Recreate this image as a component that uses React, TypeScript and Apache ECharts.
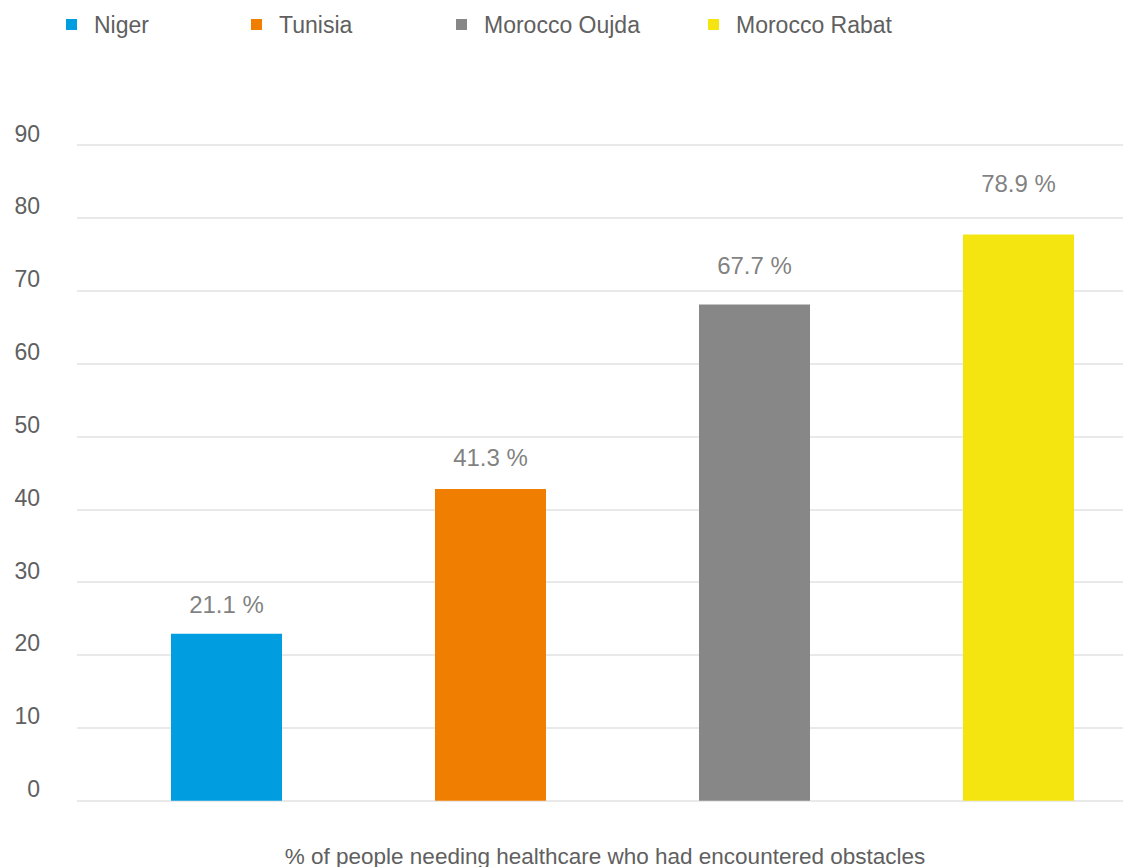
import React, { useEffect, useRef } from "react";
import * as echarts from "echarts";

const categories = ["Niger", "Tunisia", "Morocco Oujda", "Morocco Rabat"];
const barHeights = [22.9, 42.8, 68.1, 77.7];
const labelValues = [21.1, 41.3, 67.7, 78.9];
const colors = ["#009EE0", "#F07E00", "#878787", "#F4E511"];
const yTicks = { min: 0, max: 90, interval: 10 };
const footnote = "% of people needing healthcare who had encountered obstacles";
const legendLefts = [66, 251, 456, 708];

const FONT = "'Liberation Sans', Arial, sans-serif";
const TEXT = "#606060";

export default function App() {
  const ref = useRef<HTMLDivElement>(null);
  useEffect(() => {
    if (!ref.current) return;
    const chart = echarts.init(ref.current, null, { renderer: "svg" });
    const gridTop = 145;
    const gridBottom = 66.3;
    // horizontal layout: category slots 264px wide, first slot centred at x=226.5
    const plotLeft = 77;
    const plotWidth = 1123 - plotLeft;
    const slot = 264;
    const firstCenter = 226.5;
    const xMin = -(firstCenter - plotLeft) / slot;
    const xMax = xMin + plotWidth / slot;

    const barSeries = categories.map((name, i) => ({
      name,
      type: "bar",
      xAxisIndex: 1,
      yAxisIndex: 1,
      barWidth: 111,
      barGap: "-100%",
      itemStyle: { color: colors[i] },
      data: [[i, barHeights[i]]],
    }));
    chart.setOption({
      animation: false,
      backgroundColor: "#ffffff",
      textStyle: { fontFamily: FONT },
      legend: categories.map((name, i) => ({
        data: [name],
        left: legendLefts[i],
        top: 13,
        padding: 0,
        icon: "rect",
        itemWidth: 11,
        itemHeight: 11,
        selectedMode: false,
        textStyle: {
          fontSize: 23,
          color: TEXT,
          fontFamily: FONT,
          padding: [0, 0, 6, 12],
        },
      })),
      grid: [
        { left: plotLeft, right: 0, top: gridTop, bottom: gridBottom },
        { left: plotLeft, right: 0, top: gridTop, bottom: gridBottom },
      ],
      xAxis: [
        { type: "value", gridIndex: 0, show: false, min: 0, max: 1 },
        {
          type: "value",
          gridIndex: 1,
          show: false,
          min: xMin,
          max: xMax,
          splitLine: { show: false },
        },
      ],
      yAxis: [
        {
          type: "value",
          gridIndex: 0,
          min: yTicks.min,
          max: yTicks.max,
          interval: yTicks.interval,
          axisLine: { show: false },
          axisTick: { show: false },
          splitLine: { lineStyle: { color: "#e2e2e2", width: 1.6 } },
          axisLabel: {
            fontSize: 23,
            color: TEXT,
            fontFamily: FONT,
            margin: 37,
            verticalAlign: "bottom",
          },
        },
        {
          type: "value",
          gridIndex: 1,
          min: yTicks.min,
          max: yTicks.max,
          interval: yTicks.interval,
          show: false,
          splitLine: { show: false },
        },
      ],
      series: [
        ...barSeries,
        {
          name: "labels",
          type: "scatter",
          xAxisIndex: 1,
          yAxisIndex: 1,
          symbolSize: 0,
          silent: true,
          data: labelValues.map((v, i) => [i, v]),
          label: {
            show: true,
            position: "top",
            distance: 30,
            fontSize: 24,
            color: TEXT,
            fontFamily: FONT,
            formatter: (p: any) => `${Number(p.value[1]).toFixed(1)} %`,
          },
        },
      ],
      graphic: [
        {
          type: "text",
          x: 605,
          y: 856,
          style: {
            text: footnote,
            fontSize: 22.5,
            fill: TEXT,
            fontFamily: FONT,
            textAlign: "center",
            textVerticalAlign: "middle",
          },
        },
      ],
    });
    return () => chart.dispose();
  }, []);
  return (
    <div
      ref={ref}
      style={{ position: "fixed", left: 0, top: 0, width: 1123, height: 867 }}
    />
  );
}
